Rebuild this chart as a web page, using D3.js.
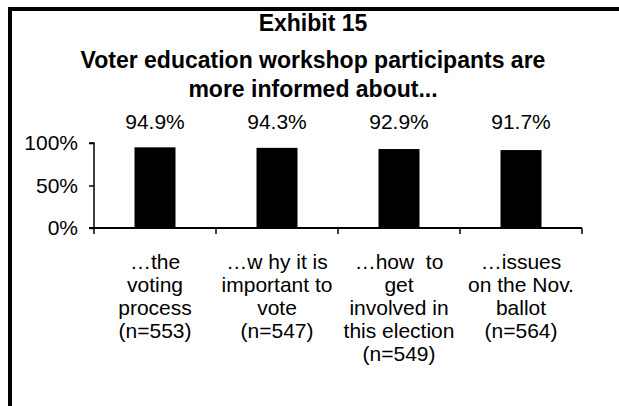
<!DOCTYPE html>
<html>
<head>
<meta charset="utf-8">
<script src="https://cdn.jsdelivr.net/npm/d3@7"></script>
<style>
  html, body { margin: 0; padding: 0; background: #fff; }
  svg { display: block; font-family: "Liberation Sans", Arial, sans-serif; }
  .pre { white-space: pre; }
</style>
</head>
<body>
<svg id="chart" width="619" height="406"></svg>
<script>
// Share of workshop participants reporting they are more informed
const titleLines = ["Exhibit 15", "Voter education workshop participants are", "more informed about..."];
const categories = [
  ["…the", "voting", "process", "(n=553)"],
  ["…w hy it is", "important to", "vote", "(n=547)"],
  ["…how  to", "get", "involved in", "this election", "(n=549)"],
  ["…issues", "on the Nov.", "ballot", "(n=564)"]
];
const values = [0.949, 0.943, 0.929, 0.917];
const valueLabels = ["94.9%", "94.3%", "92.9%", "91.7%"];
const yTicks = [0, 0.5, 1];
const yTickLabels = ["0%", "50%", "100%"];

const svg = d3.select("#chart");

// Outer frame: only the top and left edges fall inside the page
svg.append("rect")
  .attr("x", 10).attr("y", 9)
  .attr("width", 700).attr("height", 500)
  .attr("fill", "none").attr("stroke", "#000").attr("stroke-width", 4);

// Title
svg.append("g").selectAll("text")
  .data(titleLines)
  .join("text")
  .attr("x", 313)
  .attr("y", (d, i) => [31, 68, 97][i])
  .attr("text-anchor", "middle")
  .attr("font-weight", "bold")
  .attr("font-size", 23)
  .text(d => d);

const plotLeft = 94, plotRight = 582, plotTop = 143, plotBottom = 228;

const x = d3.scaleBand()
  .domain(d3.range(categories.length))
  .range([plotLeft, plotRight])
  .paddingInner(0.664)
  .paddingOuter(0.332);

const y = d3.scaleLinear().domain([0, 1]).range([plotBottom, plotTop]);

// Bars
svg.append("g").selectAll("rect")
  .data(values)
  .join("rect")
  .attr("x", (d, i) => x(i))
  .attr("y", d => y(d))
  .attr("width", x.bandwidth())
  .attr("height", d => y(0) - y(d))
  .attr("fill", "#000");

// Value labels above the bars
svg.append("g").selectAll("text")
  .data(valueLabels)
  .join("text")
  .attr("x", (d, i) => x(i) + x.bandwidth() / 2)
  .attr("y", y(1) - 14)
  .attr("text-anchor", "middle")
  .attr("font-size", 21)
  .text(d => d);

// Y axis
const yAxis = d3.axisLeft(y)
  .tickValues(yTicks)
  .tickFormat((d, i) => yTickLabels[i])
  .tickSize(5)
  .tickPadding(11);

const gy = svg.append("g")
  .attr("transform", `translate(${plotLeft},0)`)
  .call(yAxis);
gy.select(".domain").attr("d", `M-5,${plotTop}H0V${plotBottom}`).attr("stroke-width", 1.5);
gy.selectAll(".tick line").attr("stroke-width", 1.5);
gy.selectAll(".tick text")
  .attr("font-size", 21)
  .attr("font-family", "Liberation Sans, Arial, sans-serif")
  .attr("fill", "#000");

// X axis: baseline with ticks at category boundaries
const step = x.step();
const boundaries = d3.range(categories.length + 1).map(i => plotLeft + i * step);
svg.append("line")
  .attr("x1", plotLeft - 5).attr("x2", plotRight)
  .attr("y1", y(0)).attr("y2", y(0))
  .attr("stroke", "#000").attr("stroke-width", 2);
svg.append("g").selectAll("line")
  .data(boundaries)
  .join("line")
  .attr("x1", d => d).attr("x2", d => d)
  .attr("y1", y(0)).attr("y2", y(0) + 6)
  .attr("stroke", "#000").attr("stroke-width", 1.5);

// Category labels
const cat = svg.append("g").selectAll("text")
  .data(categories)
  .join("text")
  .attr("class", "pre")
  .attr("text-anchor", "middle")
  .attr("font-size", 21);
cat.selectAll("tspan")
  .data((d, i) => d.map(line => ({ line, i })))
  .join("tspan")
  .attr("x", d => x(d.i) + x.bandwidth() / 2)
  .attr("y", (d, j) => 269 + j * 23)
  .text(d => d.line);
</script>
</body>
</html>
